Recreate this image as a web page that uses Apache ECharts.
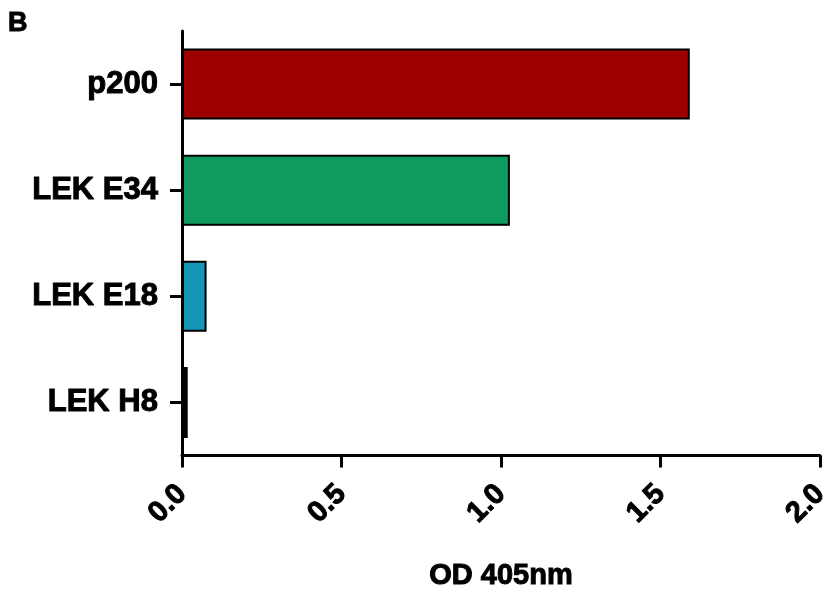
<!DOCTYPE html>
<html><head><meta charset="utf-8">
<script src="https://cdn.jsdelivr.net/npm/echarts@6/dist/echarts.min.js"></script>
<style>html,body{margin:0;padding:0;background:#fff}#c{width:833px;height:596px}</style>
</head><body><div id="c"></div>
<script>
const categories = ["p200", "LEK E34", "LEK E18", "LEK H8"];
const values = [1.592, 1.028, 0.077, 0.018];
const barColors = ["#9E0000", "#0F9A60", "#1597B5", "#000000"];
const xTicks = [0, 0.5, 1.0, 1.5, 2.0];

const chart = echarts.init(document.getElementById('c'), null, {renderer: 'canvas'});
const font = 'Liberation Sans, Arial, sans-serif';
const heavy = {fontFamily: font, fontWeight: 'bold', color: '#000', textBorderColor: '#000', textBorderWidth: 1};
chart.setOption({
  animation: false,
  backgroundColor: '#fff',
  title: {text: 'B', left: 3, top: 5, textStyle: Object.assign({fontSize: 27}, heavy)},
  grid: {left: 182, right: 6, top: 31, bottom: 136, containLabel: false},
  xAxis: {
    type: 'value', min: xTicks[0], max: xTicks[xTicks.length - 1], interval: 0.5,
    name: 'OD 405nm', nameLocation: 'middle', nameGap: 106,
    nameTextStyle: Object.assign({fontSize: 29}, heavy),
    axisLine: {show: true, lineStyle: {color: '#000', width: 3}},
    axisTick: {show: true, length: 12, lineStyle: {color: '#000', width: 3}},
    axisLabel: Object.assign({rotate: 45, margin: 34, fontSize: 29,
      formatter: v => v.toFixed(1)}, heavy),
    splitLine: {show: false}
  },
  yAxis: {
    type: 'category', data: categories, inverse: true,
    axisLine: {show: true, lineStyle: {color: '#000', width: 3}},
    axisTick: {show: true, length: 12, alignWithLabel: true, lineStyle: {color: '#000', width: 3}},
    axisLabel: Object.assign({margin: 24, fontSize: 31}, heavy),
    splitLine: {show: false}
  },
  series: [{
    type: 'bar', barCategoryGap: '33%',
    data: values.map((v, i) => ({value: v, itemStyle: {color: barColors[i]}})),
    itemStyle: {borderColor: '#000', borderWidth: 2}
  }]
});
</script></body></html>
